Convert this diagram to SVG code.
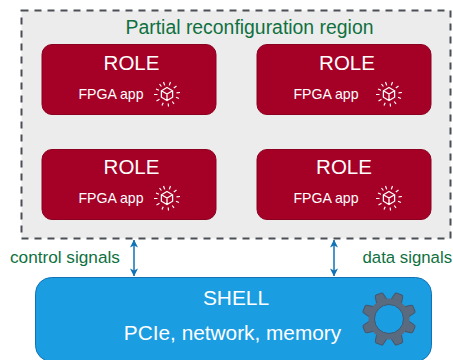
<svg xmlns="http://www.w3.org/2000/svg" width="453" height="360" viewBox="0 0 453 360">
<style>
text{font-family:"Liberation Sans",Arial,sans-serif}
.role{fill:#a50026;stroke:#8c0020;stroke-width:1}
.t1{font-size:20.5px;fill:#fff;text-anchor:middle}
.t2{font-size:14.1px;fill:#fff;text-anchor:middle}
.green{fill:#0f7040}
.lbl{font-size:17.2px}
.conn{stroke:#1173b5;stroke-width:1.5;fill:none;marker-start:url(#ah);marker-end:url(#ah)}
.ic{stroke:#fff;fill:none;stroke-width:1.3}
</style>
<defs>
<marker id="ah" viewBox="0 0 10 10" refX="9.5" refY="5" markerWidth="8" markerHeight="8" markerUnits="userSpaceOnUse" orient="auto-start-reverse"><path d="M0 0L10 5L0 10L2.5 5Z" fill="#1173b5"/></marker>
<g id="spark" class="ic">
<path d="M0-6.5L5.6-3.2V3.2L0 6.5L-5.6 3.2V-3.2ZM-5.6-3.2L0 0L5.6-3.2M0 0V6.5"/>
<path d="M-3.5-12L-2.3-8.6M3.5-12L2.3-8.6M9.5-8L6.8-6M13-1.5L9.5-1.2M12 4.5L9 3.3M7 10L5.3 7.5M1.5 12.5L1.2 9.5M-5 11.5L-3.8 8.8M-10.5 7L-7.5 5.3M-13 .5L-9.5 .5M-11-5L-8-3.8M-7.5-10L-5.6-7.5" stroke-width="1.2"/>
</g>
<path id="tooth" d="M-5.5-19L-4.2-25.5Q-4-27 -2.5-27H2.5Q4-27 4.2-25.5L5.5-19Z" fill="#5a6b80" stroke="#46566a" stroke-width="1"/>
</defs>
<g id="region">
<rect x="21.500" y="10.500" width="429" height="228" fill="#ececec" stroke="#4a4f55" stroke-width="2" stroke-dasharray="7 6"/>
<text x="249.500" y="34" font-size="19.400" text-anchor="middle" class="green">Partial reconfiguration region</text>
</g>
<g id="role1"><rect class="role" x="42" y="44.500" width="174" height="70" rx="10"/><text class="t1" x="131.500" y="70">ROLE</text><text class="t2" x="111" y="99">FPGA app</text><use href="#spark" x="167" y="94"/></g>
<g id="role2"><rect class="role" x="257" y="44.500" width="174" height="70" rx="10"/><text class="t1" x="347" y="70">ROLE</text><text class="t2" x="326" y="99">FPGA app</text><use href="#spark" x="389" y="94"/></g>
<g id="role3"><rect class="role" x="42" y="149.500" width="174" height="70" rx="10"/><text class="t1" x="131.500" y="174">ROLE</text><text class="t2" x="111" y="203">FPGA app</text><use href="#spark" x="167" y="198"/></g>
<g id="role4"><rect class="role" x="257" y="149.500" width="174" height="70" rx="10"/><text class="t1" x="344" y="174">ROLE</text><text class="t2" x="326" y="203">FPGA app</text><use href="#spark" x="389" y="198"/></g>
<g id="shell">
<rect x="35.500" y="277.500" width="396" height="84" rx="16" fill="#1b9de2" stroke="#1173b5" stroke-width="1"/>
<text x="236" y="305" font-size="20.900" fill="#fff" text-anchor="middle">SHELL</text>
<text x="232.500" y="340" font-size="20.800" fill="#fff" text-anchor="middle">PCIe, network, memory</text>
<g transform="translate(389 319)">
<use href="#tooth" transform="rotate(22.500)"/><use href="#tooth" transform="rotate(67.500)"/><use href="#tooth" transform="rotate(112.500)"/><use href="#tooth" transform="rotate(157.500)"/><use href="#tooth" transform="rotate(202.500)"/><use href="#tooth" transform="rotate(247.500)"/><use href="#tooth" transform="rotate(292.500)"/><use href="#tooth" transform="rotate(337.500)"/>
<circle r="17.500" fill="none" stroke="#5a6b80" stroke-width="6"/>
<circle r="14.500" fill="none" stroke="#46566a" stroke-width="1"/>
</g>
</g>
<g id="connectors">
<path class="conn" d="M134 240V276"/>
<path class="conn" d="M334 240V276"/>
</g>
<text class="lbl green" x="10" y="263">control signals</text>
<text class="green" font-size="16.800" x="362.500" y="263">data signals</text>
</svg>
